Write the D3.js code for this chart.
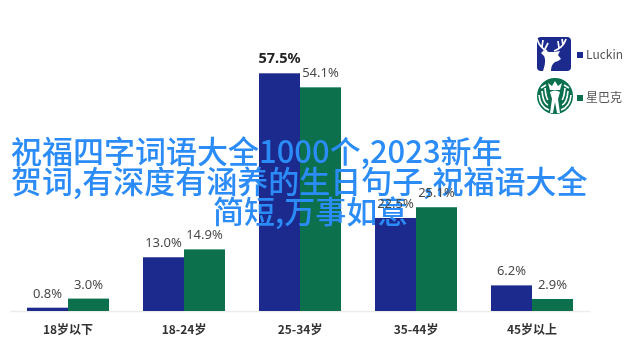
<!DOCTYPE html>
<html><head><meta charset="utf-8">
<script src="https://cdn.jsdelivr.net/npm/d3@7"></script>
<style>html,body{margin:0;padding:0;background:#fff}svg{display:block}</style>
</head><body><svg id="c" width="640" height="354"></svg>
<script>
const categories=["18岁以下","18-24岁","25-34岁","35-44岁","45岁以上"];
const luckin=[0.8,13.0,57.5,22.5,6.2];
const starbucks=[3.0,14.9,54.1,25.1,2.9];
const legendNames=["Luckin","星巴克"];
const overlayLines=["祝福四字词语大全1000个,2023新年","贺词,有深度有涵养的生日句子,祝福语大全","简短,万事如意"];
const BLUE="#1a2a8e",GREEN="#07704d",TXT="#4a4a4a",CJK="'Noto Sans CJK SC','Noto Sans',sans-serif";
const base=311;
const svg=d3.select("#c");
const defs=svg.append("defs");
defs.append("filter").attr("id","soft").append("feGaussianBlur").attr("stdDeviation",0.45);
const x=d3.scaleBand().domain(categories).range([10,590]).paddingInner(0.293).paddingOuter(0.1465);
const sub=d3.scaleBand().domain([0,1]).range([0,x.bandwidth()]);
const y=d3.scaleLinear().domain([0,57.5]).range([base,73.3]);
const g=svg.append("g").attr("filter","url(#soft)");
const ax=g.append("g").attr("transform",`translate(0,${base})`).call(d3.axisBottom(x).tickSize(0).tickPadding(14));
ax.select(".domain").style("stroke","#ececec").style("stroke-width","1.5px");
ax.selectAll(".tick line").remove();
ax.selectAll("text").attr("font-family",CJK).attr("font-size",12).attr("font-weight",700).attr("fill","#333");
[[luckin,BLUE],[starbucks,GREEN]].forEach(([vals,col],s)=>{
  g.selectAll(null).data(vals).join("rect")
   .attr("x",(d,i)=>x(categories[i])+sub(s)).attr("width",sub.bandwidth())
   .attr("y",d=>y(d)).attr("height",d=>y(0)-y(d)).attr("fill",col);
});
// legend
const lg=g.append("g");
const deer=lg.append("g").attr("transform","translate(537,37)");
deer.append("rect").attr("width",34).attr("height",34).attr("rx",4).attr("fill",BLUE);
deer.append("path").attr("fill","#fff").attr("d","M7,13 L12,15 L17,15 L23,14 L21,18 L24,22 L21,24 L18,25 C15,27 14,30 14,34 L6,34 C8,28 9,23 7,19 L4,16Z");
deer.append("path").attr("fill","none").attr("stroke","#fff").attr("stroke-width",1.7)
 .attr("d","M10,14 C5,12 2,8 0,2 M5,10 L6,3 M8,12 L11,6 M17,14 C23,12 27,8 29,2 M22,11 L21,4 M26,8 L25,2");
const cx=555,cy=96;
lg.append("circle").attr("cx",cx).attr("cy",cy).attr("r",18).attr("fill",GREEN);
lg.append("path").attr("fill","#fff").attr("d",`M${cx-7},${cy-13} L${cx-3},${cy-10} L${cx},${cy-15} L${cx+3},${cy-10} L${cx+7},${cy-13} L${cx+5},${cy-6} L${cx-5},${cy-6}Z`);
lg.append("path").attr("fill","#fff").attr("d",`M${cx-5},${cy-4} Q${cx},${cy-7} ${cx+5},${cy-4} L${cx+3},${cy+3} L${cx+5},${cy+17} L${cx+2},${cy+17} L${cx},${cy+6} L${cx-2},${cy+17} L${cx-5},${cy+17} L${cx-3},${cy+3}Z`);
[-1,1].forEach(k=>{
  lg.append("path").attr("fill","none").attr("stroke","#fff").attr("stroke-width",1.7)
   .attr("d",`M${cx+k*6},${cy+14} Q${cx+k*15},${cy+11} ${cx+k*16},${cy-1} M${cx+k*7},${cy+9} Q${cx+k*12},${cy+7} ${cx+k*13},${cy-5} M${cx+k*7},${cy+4} Q${cx+k*9},${cy+2} ${cx+k*10},${cy-8} M${cx+k*9},${cy-11} L${cx+k*14},${cy-8}`);
});
const legendY=d3.scalePoint().domain(legendNames).range([55,98]);
legendNames.forEach((n,i)=>{
  lg.append("rect").attr("x",577).attr("y",legendY(n)-3).attr("width",6).attr("height",6).attr("fill",i?GREEN:BLUE);
  lg.append("text").attr("x",586).attr("y",legendY(n)+4).attr("font-family",CJK).attr("font-size",12).attr("fill","#555").text(n);
});
// overlay
const ov=svg.append("g").attr("font-family",CJK).attr("font-size",31).attr("font-weight",500).attr("fill","#2b8cf7");
const lineX=[11,11,213],lineY=[162.5,193,222.5];
ov.selectAll("text").data(overlayLines).join("text").attr("x",(d,i)=>lineX[i]).attr("y",(d,i)=>lineY[i]).text(d=>d);
// value labels stay visible through the overlay, as in the reference
const vl=svg.append("g").attr("filter","url(#soft)");
[luckin,starbucks].forEach((vals,s)=>{
  vl.selectAll(null).data(vals).join("text")
   .attr("x",(d,i)=>x(categories[i])+sub(s)+sub.bandwidth()/2)
   .attr("y",d=>y(d)-10).attr("text-anchor","middle")
   .attr("font-family","'Noto Sans',sans-serif").attr("fill",d=>d===57.5?"#222":TXT)
   .attr("font-weight",d=>d===57.5?700:400).attr("font-size",d=>d===57.5?14.5:13)
   .text(d=>d.toFixed(1)+"%");
});
</script></body></html>
